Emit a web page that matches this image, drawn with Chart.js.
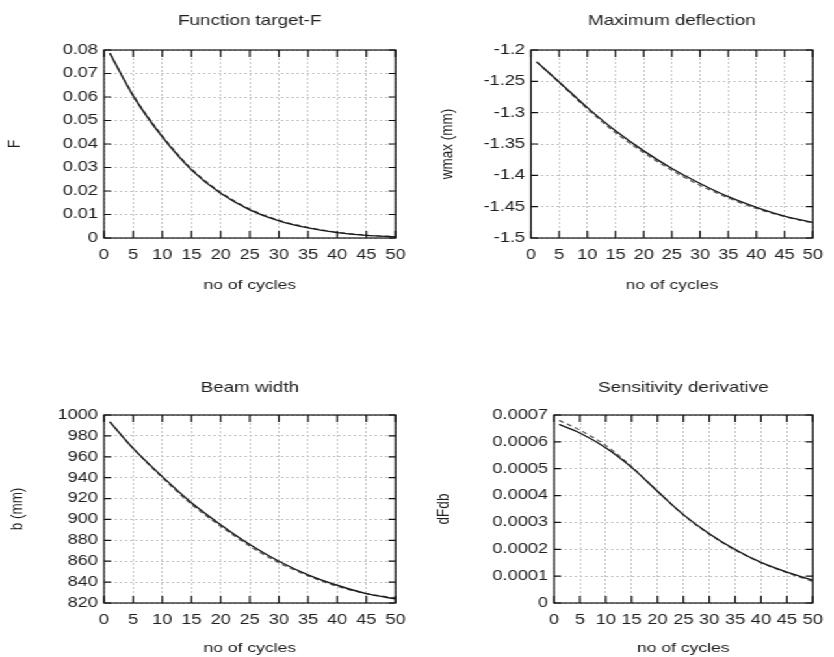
<!DOCTYPE html>
<html>
<head>
<meta charset="utf-8">
<script src="https://cdn.jsdelivr.net/npm/chart.js@4.4.1/dist/chart.umd.min.js"></script>
<style>
  html, body { margin: 0; padding: 0; background: #fff; }
  body { width: 834px; height: 657px; overflow: hidden; position: relative; }
  /* the reference is stretched sideways, so the whole page is drawn narrow and scaled */
  #page { position: absolute; left: 0; top: 0; height: 657px; transform-origin: 0 0; }
</style>
</head>
<body>
<div id="page"></div>
<script>
// --- data ---
const cycles = [1, 5, 10, 15, 20, 25, 30, 35, 40, 45, 50];
const cycleTicks = [0, 5, 10, 15, 20, 25, 30, 35, 40, 45, 50];

const fSolid  = [0.0786, 0.0605, 0.0430, 0.0290, 0.0190, 0.0120, 0.0073, 0.0043, 0.0023, 0.0011, 0.0005];
const fDashed = [0.0786, 0.0608, 0.0435, 0.0295, 0.0195, 0.0124, 0.0076, 0.0045, 0.0025, 0.0012, 0.0006];
const fTicks  = [0, 0.01, 0.02, 0.03, 0.04, 0.05, 0.06, 0.07, 0.08];

const wSolid  = [-1.219, -1.251, -1.292, -1.329, -1.361, -1.389, -1.413, -1.434, -1.451, -1.465, -1.475];
const wDashed = [-1.219, -1.252, -1.294, -1.332, -1.364, -1.392, -1.416, -1.436, -1.453, -1.466, -1.476];
const wTicks  = [-1.5, -1.45, -1.4, -1.35, -1.3, -1.25, -1.2];

const bSolid  = [993.5, 968, 941, 916, 895, 876, 860, 847, 837, 829, 824];
const bDashed = [993.5, 968, 940, 914.5, 893.5, 874.5, 858.5, 846, 836, 829, 825];
const bTicks  = [820, 840, 860, 880, 900, 920, 940, 960, 980, 1000];

const dSolid  = [0.000665, 0.000633, 0.000578, 0.000505, 0.000416, 0.000329, 0.000258, 0.000199, 0.000151, 0.000115, 0.000085];
const dDashed = [0.000680, 0.000644, 0.000587, 0.000508, 0.000416, 0.000328, 0.000256, 0.000197, 0.000150, 0.000113, 0.000080];
const dTicks  = [0, 0.0001, 0.0002, 0.0003, 0.0004, 0.0005, 0.0006, 0.0007];

// --- layout ---
const SX = 1.3;                  // horizontal stretch of the reference
const lx = v => v / SX;
const FAMILY = "'Liberation Sans', Arial, sans-serif";
const TICK_FONT = { family: FAMILY, size: 14, weight: 'normal' };
const TITLE_FONT = { family: FAMILY, size: 14.5, weight: 'normal' };
const AXIS_FONT = { family: FAMILY, size: 13.5, weight: 'normal' };
const INK = '#1e1e1e';

const page = document.getElementById('page');
page.style.width = (834 / SX) + 'px';
page.style.transform = `scaleX(${SX})`;

const fmt = v => String(Number(v.toFixed(6)));

// gnuplot-like frame with inward ticks on all four sides
const frame = {
  id: 'frame',
  afterDraw(chart) {
    const { ctx, chartArea: a, scales } = chart;
    ctx.save();
    ctx.strokeStyle = '#111';
    ctx.lineWidth = 1.2;
    ctx.strokeRect(a.left, a.top, a.right - a.left, a.bottom - a.top);
    ctx.beginPath();
    scales.x.ticks.forEach(t => {
      const px = scales.x.getPixelForValue(t.value);
      ctx.moveTo(px, a.bottom); ctx.lineTo(px, a.bottom - 7);
      ctx.moveTo(px, a.top); ctx.lineTo(px, a.top + 7);
    });
    scales.y.ticks.forEach(t => {
      const py = scales.y.getPixelForValue(t.value);
      ctx.moveTo(a.left, py); ctx.lineTo(a.left + lx(7), py);
      ctx.moveTo(a.right, py); ctx.lineTo(a.right - lx(7), py);
    });
    ctx.stroke();
    ctx.restore();
  }
};

function panel(o) {
  const cl = Math.round(lx(o.box[0]));
  const cw = Math.round(lx(o.box[0] + o.box[2])) - cl;
  const ct = o.box[1], ch = o.box[3];
  const canvas = document.createElement('canvas');
  canvas.width = cw; canvas.height = ch;
  canvas.style.cssText = `position:absolute;left:${cl}px;top:${ct}px;width:${cw}px;height:${ch}px`;
  page.appendChild(canvas);

  const left = lx(o.plot[0]) - cl, right = lx(o.plot[1]) - cl;
  const top = o.plot[2] - ct, bottom = o.plot[3] - ct;
  const halfT = TITLE_FONT.size * 1.2 / 2;
  const halfA = AXIS_FONT.size * 1.2 / 2;
  const titleTop = o.titleY - ct - halfT;

  const grid = { color: '#c4c4c4', lineWidth: 1, drawTicks: false };
  const border = { display: false, dash: [2, 2] };

  new Chart(canvas, {
    type: 'line',
    data: {
      datasets: [
        { data: cycles.map((c, i) => ({ x: c, y: o.solid[i] })), borderColor: '#1a1a1a',
          borderWidth: 1.4, pointRadius: 0, cubicInterpolationMode: 'monotone' },
        { data: cycles.map((c, i) => ({ x: c, y: o.dashed[i] })), borderColor: '#555',
          borderWidth: 1.2, borderDash: [4, 3], pointRadius: 0, cubicInterpolationMode: 'monotone' }
      ]
    },
    options: {
      responsive: false,
      animation: false,
      events: [],
      layout: { padding: { left: 0, top: 0, right: cw - right, bottom: 0 } },
      plugins: {
        legend: { display: false },
        tooltip: { enabled: false },
        title: {
          display: true, text: o.title, fullSize: false, color: INK, font: TITLE_FONT,
          padding: { top: titleTop, bottom: top - titleTop - 2 * halfT }
        }
      },
      scales: {
        x: {
          type: 'linear', min: 0, max: 50,
          afterBuildTicks: s => { s.ticks = cycleTicks.map(v => ({ value: v })); },
          afterFit: s => { s.height = ch - bottom; },
          grid, border,
          ticks: { color: INK, font: TICK_FONT, padding: 9, maxRotation: 0, autoSkip: false, callback: fmt },
          title: { display: true, text: 'no of cycles', color: INK, font: AXIS_FONT,
                   padding: { top: 0, bottom: ch - (o.xTitleY - ct) - halfA } }
        },
        y: {
          type: 'linear', min: o.ticks[0], max: o.ticks[o.ticks.length - 1],
          afterBuildTicks: s => { s.ticks = o.ticks.map(v => ({ value: v })); },
          afterFit: s => { s.width = left; },
          grid, border,
          ticks: { color: INK, font: TICK_FONT, padding: lx(6), autoSkip: false, callback: fmt },
          title: { display: true, text: o.yTitle, color: INK, font: AXIS_FONT,
                   padding: { top: lx(o.yTitleX) - cl - halfA, bottom: 0 } }
        }
      }
    },
    plugins: [frame]
  });
}

panel({ box: [0, 0, 417, 328], plot: [104, 396, 50, 238], titleY: 21, xTitleY: 285, yTitleX: 15,
        title: 'Function target-F', yTitle: 'F', solid: fSolid, dashed: fDashed, ticks: fTicks });
panel({ box: [417, 0, 417, 328], plot: [531, 822, 50, 238], titleY: 21, xTitleY: 285, yTitleX: 448,
        title: 'Maximum deflection', yTitle: 'wmax (mm)', solid: wSolid, dashed: wDashed, ticks: wTicks });
panel({ box: [0, 328, 417, 329], plot: [104, 396, 415, 603], titleY: 388, xTitleY: 648, yTitleX: 17,
        title: 'Beam width', yTitle: 'b (mm)', solid: bSolid, dashed: bDashed, ticks: bTicks });
panel({ box: [417, 328, 417, 329], plot: [554, 822, 415, 603], titleY: 388, xTitleY: 648, yTitleX: 444,
        title: 'Sensitivity derivative', yTitle: 'dFdb', solid: dSolid, dashed: dDashed, ticks: dTicks });
</script>
</body>
</html>
